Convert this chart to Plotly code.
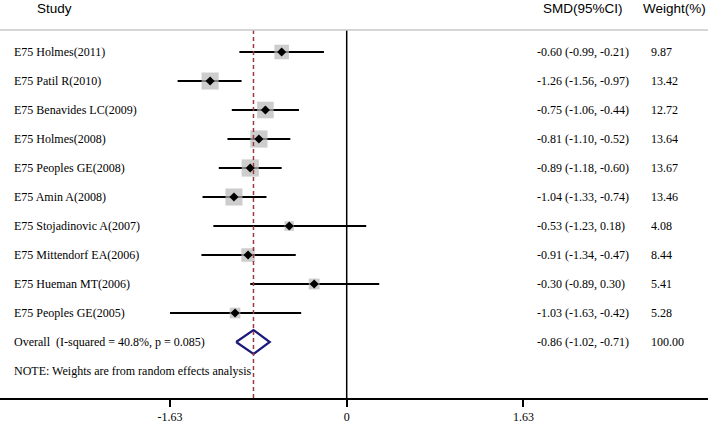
import plotly.graph_objects as go
import math

studies = ["E75 Holmes(2011)", "E75 Patil R(2010)", "E75 Benavides LC(2009)", "E75 Holmes(2008)",
           "E75 Peoples GE(2008)", "E75 Amin A(2008)", "E75 Stojadinovic A(2007)",
           "E75 Mittendorf EA(2006)", "E75 Hueman MT(2006)", "E75 Peoples GE(2005)"]
smd = [-0.60, -1.26, -0.75, -0.81, -0.89, -1.04, -0.53, -0.91, -0.30, -1.03]
lower = [-0.99, -1.56, -1.06, -1.10, -1.18, -1.33, -1.23, -1.34, -0.89, -1.63]
upper = [-0.21, -0.97, -0.44, -0.52, -0.60, -0.74, 0.18, -0.47, 0.30, -0.42]
weights = [9.87, 13.42, 12.72, 13.64, 13.67, 13.46, 4.08, 8.44, 5.41, 5.28]
overall_label = "Overall  (I-squared = 40.8%, p = 0.085)"
overall = [-0.86, -1.02, -0.71]
overall_weight = "100.00"
note = "NOTE: Weights are from random effects analysis"
tick_vals = [-1.63, 0, 1.63]
tick_text = ["-1.63", "0", "1.63"]

W, H = 708, 425
px_per_unit = 108.4
zero_px = 346.7
x_range = [-zero_px / px_per_unit, (W - zero_px) / px_per_unit]
row0, row_h = 52, 29
y_top = (0 - row0) / row_h
y_bot = (H - row0) / row_h
axis_px = 399
axis_y = (axis_px - row0) / row_h
top_line_y = (30 - row0) / row_h
header_y = (8 - row0) / row_h


def sx(px):
    """pixel column -> data x"""
    return x_range[0] + px / px_per_unit


serif = "Liberation Serif, Times New Roman, serif"
sans = "Liberation Sans, Arial, sans-serif"
FS = 12

fig = go.Figure()
rows = list(range(len(studies)))

for i in rows:
    fig.add_trace(go.Scatter(x=[lower[i], upper[i]], y=[i, i], mode="lines",
                             line=dict(color="black", width=2), showlegend=False, hoverinfo="skip"))
fig.add_trace(go.Scatter(x=smd, y=rows, mode="markers",
                         marker=dict(symbol="square", color="#b8b8b8",
                                     size=[4.65 * math.sqrt(w) for w in weights], line=dict(width=0)),
                         showlegend=False, hoverinfo="skip"))
fig.add_trace(go.Scatter(x=smd, y=rows, mode="markers",
                         marker=dict(symbol="diamond", color="black", size=7),
                         showlegend=False, hoverinfo="skip"))

ov_row = len(studies)
dh = 12 / row_h
fig.add_trace(go.Scatter(x=[overall[1], overall[0], overall[2], overall[0], overall[1]],
                         y=[ov_row, ov_row - dh, ov_row, ov_row + dh, ov_row],
                         mode="lines", line=dict(color="#1a1a7a", width=2.2),
                         showlegend=False, hoverinfo="skip"))

fig.add_shape(type="line", x0=0, x1=0, y0=top_line_y, y1=axis_y, line=dict(color="black", width=1.5))
fig.add_shape(type="line", x0=overall[0], x1=overall[0], y0=top_line_y, y1=axis_y,
              line=dict(color="#a0393d", width=1.5, dash="4px,3px"))
fig.add_shape(type="line", x0=x_range[0], x1=x_range[1], y0=top_line_y, y1=top_line_y,
              line=dict(color="#c8c8c8", width=1.5))


def fmt(v):
    return f"{v:.2f}"


x_lab = sx(12)
x_smd = sx(535)
x_wt = sx(649)
tf = dict(family=serif, size=FS, color="black")
for i in rows:
    fig.add_annotation(x=x_lab, y=i, text=studies[i], showarrow=False, xanchor="left", font=tf)
    fig.add_annotation(x=x_smd, y=i, text=f"{fmt(smd[i])} ({fmt(lower[i])}, {fmt(upper[i])})",
                       showarrow=False, xanchor="left", font=tf)
    fig.add_annotation(x=x_wt, y=i, text=fmt(weights[i]), showarrow=False, xanchor="left", font=tf)
fig.add_annotation(x=x_lab, y=ov_row, text=overall_label, showarrow=False, xanchor="left", font=tf)
fig.add_annotation(x=x_smd, y=ov_row, text=f"{fmt(overall[0])} ({fmt(overall[1])}, {fmt(overall[2])})",
                   showarrow=False, xanchor="left", font=tf)
fig.add_annotation(x=x_wt, y=ov_row, text=overall_weight, showarrow=False, xanchor="left", font=tf)
fig.add_annotation(x=x_lab, y=ov_row + 1, text=note, showarrow=False, xanchor="left", font=tf)

hf = dict(family=sans, size=13.5, color="black")
fig.add_annotation(x=sx(35), y=header_y, text="Study", showarrow=False, xanchor="left", font=hf)
fig.add_annotation(x=sx(541), y=header_y, text="SMD(95%CI)", showarrow=False, xanchor="left", font=hf)
fig.add_annotation(x=sx(641), y=header_y, text="Weight(%)", showarrow=False, xanchor="left", font=hf)

fig.update_layout(
    width=W, height=H, margin=dict(l=0, r=0, t=0, b=0),
    plot_bgcolor="white", paper_bgcolor="white",
    xaxis=dict(range=x_range, tickvals=tick_vals, ticktext=tick_text, showgrid=False, zeroline=False,
               showline=True, linecolor="black", linewidth=1.5, ticks="outside", ticklen=7,
               tickwidth=1.5, tickcolor="black", anchor="free", position=1 - axis_px / H,
               tickfont=dict(family=serif, size=12, color="black")),
    yaxis=dict(range=[y_bot, y_top], visible=False, showgrid=False, zeroline=False),
)

fig.write_html("out.html", config={"displayModeBar": False},
               post_script="document.body.style.margin='0px';document.body.style.overflow='hidden';")
